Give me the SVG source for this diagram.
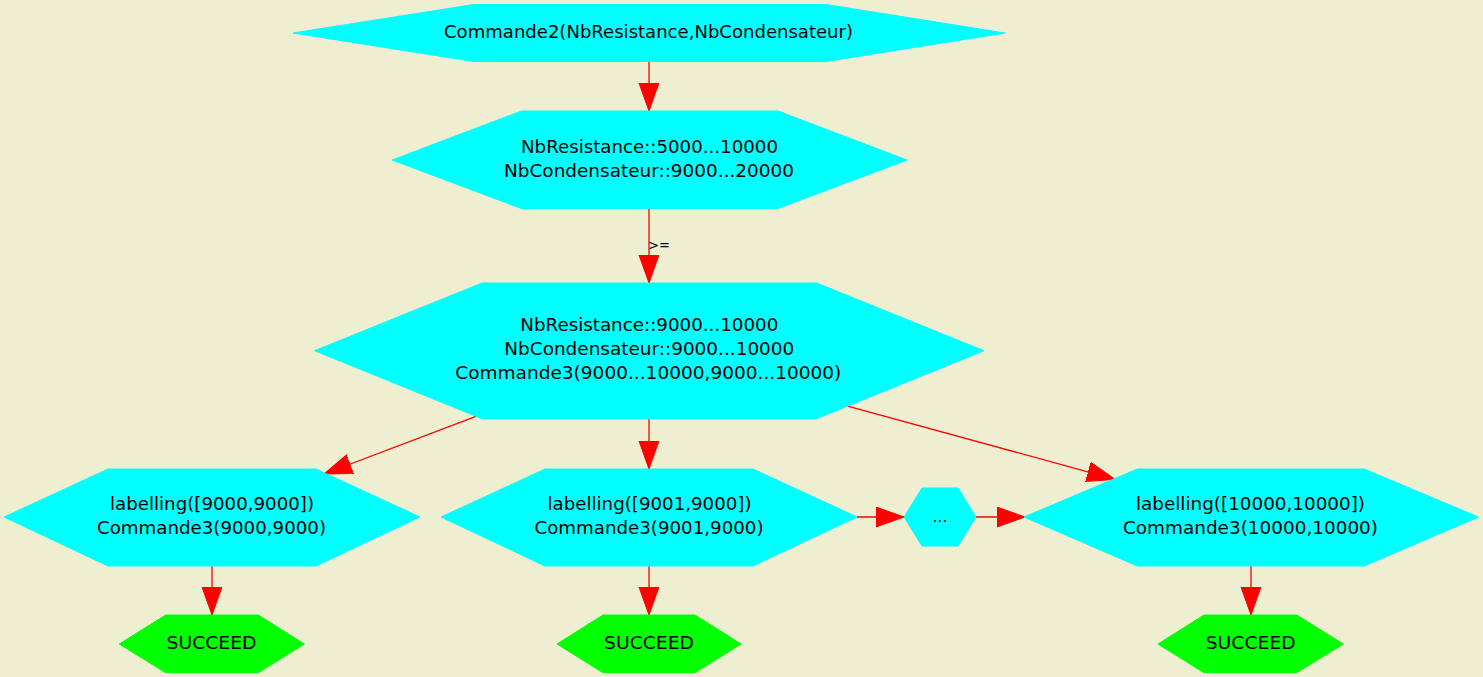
<svg xmlns="http://www.w3.org/2000/svg" width="1483" height="677" viewBox="0 0 1483 677">
<style>
.bg{fill:#eeeed1}
.n{fill:#00ffff;stroke:#00ffff;stroke-width:1}
.s{fill:#00ff00;stroke:#00ff00;stroke-width:1}
.t{font-family:"DejaVu Sans","Liberation Sans",sans-serif;font-size:18px;fill:#000;text-anchor:middle}
.e{stroke:#ff0000;stroke-width:1.3;fill:none}
.lbl{font-family:"DejaVu Sans","Liberation Sans",sans-serif;font-size:14px;fill:#000}
</style>
<defs>
<marker id="arr" markerUnits="userSpaceOnUse" markerWidth="30" markerHeight="22" refX="28" refY="10" orient="auto" viewBox="0 0 30 22">
<path d="M0,0 L28,10 L0,20 Z" fill="#ff0000" stroke="#ff0000" stroke-width="1"/>
</marker>
</defs>
<rect class="bg" x="0" y="0" width="1483" height="677"/>

<g id="connectors">
<line class="e" x1="649" y1="62" x2="649" y2="111" marker-end="url(#arr)"/>
<line class="e" x1="649" y1="208" x2="649" y2="283" marker-end="url(#arr)"/>
<text class="lbl" x="648" y="249.5" textLength="22" lengthAdjust="spacingAndGlyphs">&gt;=</text>
<line class="e" x1="476" y1="416.4" x2="324" y2="474" marker-end="url(#arr)"/>
<line class="e" x1="649" y1="418.7" x2="649" y2="469" marker-end="url(#arr)"/>
<line class="e" x1="847.6" y1="406.1" x2="1115" y2="479.3" marker-end="url(#arr)"/>
<line class="e" x1="857" y1="517" x2="904" y2="517" marker-end="url(#arr)"/>
<line class="e" x1="976" y1="517" x2="1025" y2="517" marker-end="url(#arr)"/>
<line class="e" x1="212" y1="566" x2="212" y2="615" marker-end="url(#arr)"/>
<line class="e" x1="649" y1="566" x2="649" y2="615" marker-end="url(#arr)"/>
<line class="e" x1="1251" y1="566" x2="1251" y2="615" marker-end="url(#arr)"/>
</g>

<g id="commande2">
<polygon class="n" points="293,33 473.5,4.5 826,4.5 1005,33 826,61.5 473.5,61.5"/>
<text class="t" x="648.5" y="38" textLength="409" lengthAdjust="spacingAndGlyphs">Commande2(NbResistance,NbCondensateur)</text>
</g>

<g id="domains1">
<polygon class="n" points="392,160 521.5,111 778,111 907,160 778,208.5 521.5,208.5"/>
<text class="t" x="649.5" y="153" textLength="257" lengthAdjust="spacingAndGlyphs">NbResistance::5000...10000</text>
<text class="t" x="649" y="177" textLength="290" lengthAdjust="spacingAndGlyphs">NbCondensateur::9000...20000</text>
</g>

<g id="domains2">
<polygon class="n" points="314.5,350.7 482,283 816.5,283 984,350.7 816.5,418.7 482,418.7"/>
<text class="t" x="649.3" y="331" textLength="258" lengthAdjust="spacingAndGlyphs">NbResistance::9000...10000</text>
<text class="t" x="649.3" y="355" textLength="290" lengthAdjust="spacingAndGlyphs">NbCondensateur::9000...10000</text>
<text class="t" x="648.3" y="379" textLength="386" lengthAdjust="spacingAndGlyphs">Commande3(9000...10000,9000...10000)</text>
</g>

<g id="label9000">
<polygon class="n" points="4,517 108,469 316,469 420,517 316,566 108,566"/>
<text class="t" x="212" y="510" textLength="204" lengthAdjust="spacingAndGlyphs">labelling([9000,9000])</text>
<text class="t" x="211.5" y="534" textLength="229" lengthAdjust="spacingAndGlyphs">Commande3(9000,9000)</text>
</g>

<g id="label9001">
<polygon class="n" points="441,517 545,469 753,469 857,517 753,566 545,566"/>
<text class="t" x="649.5" y="510" textLength="204" lengthAdjust="spacingAndGlyphs">labelling([9001,9000])</text>
<text class="t" x="649" y="534" textLength="229" lengthAdjust="spacingAndGlyphs">Commande3(9001,9000)</text>
</g>

<g id="ellipsis">
<polygon class="n" points="904,517 922,488 958,488 976,517 958,546 922,546"/>
<text class="t" x="940" y="522" style="font-size:15px">...</text>
</g>

<g id="label10000">
<polygon class="n" points="1024,517 1137.3,469 1364.3,469 1478.5,517 1364.3,566 1137.3,566"/>
<text class="t" x="1250.5" y="510" textLength="229" lengthAdjust="spacingAndGlyphs">labelling([10000,10000])</text>
<text class="t" x="1250.5" y="534" textLength="255" lengthAdjust="spacingAndGlyphs">Commande3(10000,10000)</text>
</g>

<g id="succeed1">
<polygon class="s" points="119.3,644 165.7,615 258.3,615 304.3,644 258.3,672.7 165.7,672.7"/>
<text class="t" x="211.5" y="649" textLength="90" lengthAdjust="spacingAndGlyphs">SUCCEED</text>
</g>

<g id="succeed2">
<polygon class="s" points="557,644 603,615 695,615 741,644 695,672.7 603,672.7"/>
<text class="t" x="649" y="649" textLength="90" lengthAdjust="spacingAndGlyphs">SUCCEED</text>
</g>

<g id="succeed3">
<polygon class="s" points="1158,644 1204,615 1296.7,615 1343.3,644 1296.7,672.7 1204,672.7"/>
<text class="t" x="1250.7" y="649" textLength="90" lengthAdjust="spacingAndGlyphs">SUCCEED</text>
</g>
</svg>
